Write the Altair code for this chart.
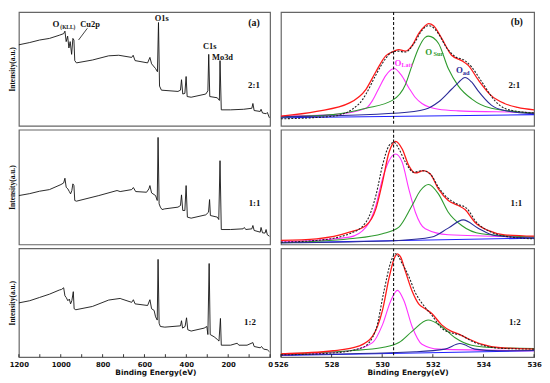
import altair as alt
import pandas as pd

# ---------------- Survey spectra (left column): binding energy (eV) / intensity (a.u.)
sv21_be = [1200,1148,1101,1054,1007,986,980,974,967,961,955,948,942,937,933,925,849,771,723,661,654,645,585,574,566,547,538,533,528,519,440,428,423,417,407,401,396,377,307,297,293,288,252,242,239,233,189,126,87,82,76,47,43,36,19,13,3]
sv21_i = [71.2,73.2,75.4,76.8,79.6,81.0,83.2,74.0,78.8,68.4,74.0,62.8,76.8,75.4,57.3,55.3,57.8,61.5,62.0,60.1,62.0,57.3,55.3,60.1,54.5,50.3,47.5,90.8,34.9,31.3,30.2,31.3,40.5,27.9,28.5,43.3,25.7,25.1,27.9,30.7,62.8,25.7,24.6,22.3,57.3,14.0,14.0,14.5,15.4,19.6,13.4,12.6,14.5,11.2,10.6,11.7,7.0]

sv11_be = [1200,1148,1101,1054,999,986,980,974,966,959,953,947,942,937,933,925,818,731,716,661,653,642,590,579,574,566,547,539,535,530,524,516,503,440,428,423,417,407,401,395,377,307,294,289,285,252,245,239,233,189,129,123,116,87,82,76,47,43,36,24,19,13,3]
sv11_i = [42.6,44.3,46.4,47.8,52.2,53.6,57.7,49.9,48.4,46.1,44.1,47.0,52.8,51.3,38.3,37.7,42.6,47.0,46.1,47.8,49.6,46.1,45.5,48.4,51.3,44.9,42.6,38.3,93.3,35.4,32.5,30.4,31.0,32.5,33.9,43.2,29.6,29.6,51.3,23.8,22.9,25.8,28.1,39.1,25.2,23.8,21.7,73.0,13.0,13.0,13.6,14.8,13.0,13.6,16.5,12.2,10.7,14.8,10.1,9.9,13.0,8.4,7.2]

sv12_be = [1200,1148,1101,1054,1007,996,986,980,974,966,959,953,947,940,936,928,849,771,716,708,661,653,645,585,574,566,554,547,539,535,530,524,503,428,423,418,406,399,393,377,315,302,297,291,286,267,252,244,237,233,189,157,149,110,82,76,47,41,31,13,3]
sv12_i = [49.9,51.9,54.9,57.9,61.7,62.3,63.8,56.4,54.9,51.9,53.4,49.0,51.9,60.2,44.5,43.6,46.6,52.5,54.0,53.4,50.4,52.8,49.0,47.5,52.8,44.5,43.0,37.1,34.1,89.9,31.2,28.2,27.6,28.8,33.5,26.7,28.2,36.2,25.2,24.0,26.7,28.2,20.8,86.1,20.8,18.7,16.3,14.8,35.6,11.0,11.0,12.8,11.0,11.0,13.4,9.8,8.6,9.8,7.4,6.8,5.0]

# ---------------- O1s spectra (right column)
# 2:1
r21_fit_be = [526.00,527.41,528.71,529.36,529.75,530.14,530.47,530.66,530.92,531.18,531.44,531.70,531.83,532.03,532.35,532.74,533.14,533.40,533.79,534.31,534.83,535.35,536.00]
r21_fit_i = [8.4,12.6,20.1,32.1,47.5,61.5,65.6,67.0,65.6,70.4,81.0,88.0,89.9,88.0,76.8,62.0,57.3,53.1,40.5,26.5,19.6,16.2,14.0]
r21_raw_be = [526.00,528.06,529.10,529.36,529.75,530.14,530.34,530.60,530.92,531.25,531.57,531.81,531.96,532.22,532.55,532.88,533.27,533.53,533.92,534.44,534.83,535.35,536.00]
r21_raw_i = [6.1,8.4,19.6,27.9,44.7,59.2,64.2,65.6,64.8,72.1,83.8,88.0,87.2,81.0,68.4,60.9,57.3,51.7,39.1,22.3,15.4,12.6,11.2]
r21_latt_be = [526.00,528.06,529.36,529.62,529.88,530.14,530.47,530.75,531.05,531.30,531.57,532.22,533.00,534.50,536.00]
r21_latt_i = [8.4,9.8,15.4,22.3,33.5,44.1,50.3,44.7,33.5,25.1,19.6,14.5,13.1,12.3,11.7]
r21_sur_be = [526.00,528.06,529.36,530.40,530.92,531.18,531.44,531.70,531.83,532.22,532.61,533.01,533.53,534.31,536.00]
r21_sur_i = [7.8,9.8,15.4,22.3,36.3,53.1,68.4,77.7,78.8,72.6,50.3,34.9,23.7,15.4,11.2]
r21_ad_be = [526.00,530.66,531.70,532.22,532.74,533.01,533.27,533.53,533.79,534.31,534.83,536.00]
r21_ad_i = [7.8,11.2,14.5,20.9,32.1,38.0,42.5,38.5,30.7,18.2,13.4,10.6]
r21_base_be = [526.0, 536.0]
r21_base_i = [7.0, 9.8]

# 1:1
r11_fit_be = [526.00,527.41,528.71,529.36,529.75,530.01,530.27,530.53,530.79,531.05,531.31,531.64,531.90,532.22,532.61,533.01,533.27,533.66,534.18,534.83,536.00]
r11_fit_i = [3.5,4.9,10.7,16.5,31.0,54.2,80.3,89.9,83.2,68.7,62.3,64.3,61.4,48.4,38.3,33.9,30.4,19.4,12.2,8.4,7.2]
r11_raw_be = [526.00,527.41,528.71,529.36,529.75,530.01,530.27,530.47,530.66,530.92,531.25,531.57,531.90,532.22,532.55,532.94,533.33,533.72,534.31,535.09,536.00]
r11_raw_i = [2.0,3.5,9.3,19.4,42.6,68.7,86.1,89.0,83.2,71.6,62.9,64.3,61.4,49.9,41.2,35.4,31.6,19.4,10.7,6.4,4.9]
r11_latt_be = [526.00,528.71,529.36,529.75,530.01,530.27,530.53,530.79,531.05,531.31,531.70,532.61,536.00]
r11_latt_i = [2.0,6.4,15.1,33.9,57.1,73.0,78.8,71.6,48.4,28.1,13.6,8.4,6.4]
r11_sur_be = [526.00,528.71,530.01,530.66,531.18,531.51,531.83,532.22,532.61,533.14,533.92,536.00]
r11_sur_i = [1.4,4.9,9.3,15.1,33.9,47.0,52.2,44.1,28.1,16.5,9.3,6.4]
r11_ad_be = [526.00,530.66,531.96,532.61,533.20,533.79,534.44,536.00]
r11_ad_i = [1.4,3.5,6.4,14.2,21.4,14.2,7.8,5.5]
r11_base_be = [526.0, 536.0]
r11_base_i = [1.4, 5.5]

# 1:2
r12_fit_be = [526.00,528.06,529.10,529.62,530.01,530.27,530.47,530.60,530.73,530.92,531.18,531.44,531.70,531.96,532.35,532.74,533.07,533.40,533.92,534.57,536.00]
r12_fit_i = [3.0,5.9,10.4,19.3,43.0,72.7,90.5,95.0,92.0,78.6,60.8,49.0,44.5,40.1,29.7,23.7,20.8,16.9,11.9,8.9,7.4]
r12_raw_be = [526.00,528.06,529.23,529.75,530.07,530.34,530.53,530.79,531.05,531.31,531.64,531.96,532.35,532.74,533.14,533.53,534.05,534.83,536.00]
r12_raw_i = [2.1,3.9,8.9,25.2,60.8,87.5,95.0,86.1,74.2,59.3,47.5,38.6,26.7,22.3,19.9,14.8,10.4,8.0,7.4]
r12_latt_be = [526.00,528.71,529.62,530.01,530.34,530.60,530.86,531.18,531.57,532.22,536.00]
r12_latt_i = [2.1,5.9,13.4,29.7,51.9,61.4,51.9,28.2,11.9,7.4,5.9]
r12_sur_be = [526.00,528.71,530.01,530.66,531.18,531.81,532.35,532.88,533.53,534.57,536.00]
r12_sur_i = [3.0,5.9,8.9,13.4,23.7,34.1,28.2,17.8,11.0,8.6,8.0]
r12_ad_be = [526.00,531.31,532.48,533.07,533.66,534.57,536.00]
r12_ad_i = [2.1,5.0,7.4,12.5,7.4,5.9,6.2]
r12_base_be = [526.0, 536.0]
r12_base_i = [1.5, 5.9]

# ---------------- ticks / reference line / labels
left_ticks = [1200, 1000, 800, 600, 400, 200, 0]
left_minor = [1200, 1100, 1000, 900, 800, 700, 600, 500, 400, 300, 200, 100, 0]
right_ticks = [526, 528, 530, 532, 534, 536]
dash_be = [530.45]

comp_names = ["base", "latt", "sur", "ad"]
comp_colors = ["#2020ff", "#ff33ff", "#2e9a2e", "#2a2a98"]

SERIF = "Liberation Serif"
SANS = "DejaVu Sans"
LEFT_W, RIGHT_W = 254, 256
ROW_H = [115, 116, 110]


def xenc(domain, reverse, bottom, ticks, title_x=None):
    scale = alt.Scale(domain=domain, reverse=reverse, nice=False, zero=False)
    if bottom:
        kw = dict(values=ticks, format="d", labelFlush=False, ticks=False, domain=False, grid=False,
                  labelFont=SANS, labelFontWeight="bold", labelFontSize=7, labelPadding=3,
                  labelColor="#111", title="Binding Energy(eV)", titleFont=SANS,
                  titleFontSize=7.5, titleFontWeight="bold", titlePadding=2, titleColor="#111")
        if title_x is not None:
            kw["titleX"] = title_x
        return alt.X("BE:Q", scale=scale, axis=alt.Axis(**kw))
    return alt.X("BE:Q", scale=scale, axis=None)


def yenc(left):
    scale = alt.Scale(domain=[0, 100], nice=False, zero=False)
    if left:
        ax = alt.Axis(title="Intensity(a.u.)", labels=False, ticks=False, domain=False, grid=False,
                      titleFont=SERIF, titleFontWeight="bold", titleFontSize=7.5, titlePadding=2,
                      titleColor="#111")
        return alt.Y("I:Q", scale=scale, axis=ax)
    return alt.Y("I:Q", scale=scale, axis=None)


def text_layer(texts, x, y):
    df = pd.DataFrame(texts, columns=["BE", "I", "label", "fs", "c"])
    return alt.Chart(df).mark_text(font=SERIF, fontWeight="bold", baseline="middle", align="center").encode(
        x=x, y=y, text="label:N", size=alt.Size("fs:Q", scale=None), color=alt.Color("c:N", scale=None))


def tick_layer(vals, x, H):
    return alt.Chart(pd.DataFrame({"BE": vals})).mark_rule(color="#222", strokeWidth=0.9).encode(
        x=x, y=alt.value(H), y2=alt.value(H - 3))


def survey_panel(be, inten, texts, row, bottom, leader=None):
    H = ROW_H[row]
    x = xenc([0, 1200], True, bottom, left_ticks, 138)
    y = yenc(True)
    df = pd.DataFrame({"BE": be, "I": inten, "idx": list(range(len(be)))})
    layers = [alt.Chart(df).mark_line(color="#111", strokeWidth=0.9).encode(x=x, y=y, order="idx:Q"),
              text_layer(texts, x, y)]
    if leader is not None:
        ldf = pd.DataFrame([leader], columns=["BE", "I", "BE2", "I2"])
        layers.append(alt.Chart(ldf).mark_rule(color="#111", strokeWidth=0.8).encode(
            x=x, y=y, x2="BE2:Q", y2="I2:Q"))
    if bottom:
        layers.append(tick_layer(left_minor, x, H))
    return alt.layer(*layers).properties(width=LEFT_W, height=H)


def o1s_panel(comps, fit, raw, texts, row, bottom):
    H = ROW_H[row]
    x = xenc([526, 536], False, bottom, right_ticks)
    y = yenc(False)
    rows = []
    for name, (be, iv) in zip(comp_names, comps):
        for k, (b, v) in enumerate(zip(be, iv)):
            rows.append({"BE": b, "I": v, "s": name, "idx": k})
    cdf = pd.DataFrame(rows)
    fdf = pd.DataFrame({"BE": fit[0], "I": fit[1], "idx": list(range(len(fit[0])))})
    rdf = pd.DataFrame({"BE": raw[0], "I": raw[1], "idx": list(range(len(raw[0])))})
    comp = alt.Chart(cdf).mark_line(strokeWidth=1.1, interpolate="monotone").encode(
        x=x, y=y, order="idx:Q",
        color=alt.Color("s:N", scale=alt.Scale(domain=comp_names, range=comp_colors), legend=None))
    fitl = alt.Chart(fdf).mark_line(color="#ff1a1a", strokeWidth=1.3, interpolate="monotone").encode(
        x=x, y=y, order="idx:Q")
    rawl = alt.Chart(rdf).mark_line(color="#222", strokeWidth=1.1, strokeDash=[2, 1.5],
                                    interpolate="monotone").encode(x=x, y=y, order="idx:Q")
    dash = alt.Chart(pd.DataFrame({"BE": dash_be})).mark_rule(
        color="#111", strokeWidth=1.1, strokeDash=[3, 2]).encode(x=x)
    layers = [comp, fitl, rawl, dash, text_layer(texts, x, y)]
    if bottom:
        layers.append(tick_layer(right_ticks, x, H))
    return alt.layer(*layers).properties(width=RIGHT_W, height=H)


K = "#111"
t_a = [(1023, 89.3, "O", 9, K), (966, 86.5, "(KLL)", 5.5, K), (860, 89.3, "Cu2p", 8.5, K),
       (517, 94.4, "O1s", 8.5, K), (288, 70.3, "C1s", 8.5, K), (227, 60.8, "Mo3d", 8.5, K),
       (77, 89.9, "(a)", 10, K), (77, 36.1, "2:1", 9, K)]
t_l11 = [(74, 36.5, "1:1", 9, K)]
t_l12 = [(96, 32.7, "1:2", 9, K)]
t_b = [(535.32, 90.8, "(b)", 10, K), (535.22, 36.1, "2:1", 9, K),
       (530.62, 55.2, "O", 9, "#ff33ff"), (530.98, 53.0, "Latt", 6, "#ff33ff"),
       (531.84, 64.7, "O", 9, "#2e9a2e"), (532.22, 62.8, "Sur", 6.5, "#2e9a2e"),
       (533.05, 48.7, "O", 9, "#2a2a98"), (533.32, 46.8, "ad", 6.5, "#2a2a98")]
t_r11 = [(535.3, 36.5, "1:1", 9, K)]
t_r12 = [(535.24, 32.7, "1:2", 9, K)]

panels = [
    survey_panel(sv21_be, sv21_i, t_a, 0, False, leader=(873, 85.7, 915, 75.4)),
    o1s_panel([(r21_base_be, r21_base_i), (r21_latt_be, r21_latt_i), (r21_sur_be, r21_sur_i), (r21_ad_be, r21_ad_i)],
              (r21_fit_be, r21_fit_i), (r21_raw_be, r21_raw_i), t_b, 0, False),
    survey_panel(sv11_be, sv11_i, t_l11, 1, False),
    o1s_panel([(r11_base_be, r11_base_i), (r11_latt_be, r11_latt_i), (r11_sur_be, r11_sur_i), (r11_ad_be, r11_ad_i)],
              (r11_fit_be, r11_fit_i), (r11_raw_be, r11_raw_i), t_r11, 1, False),
    survey_panel(sv12_be, sv12_i, t_l12, 2, True),
    o1s_panel([(r12_base_be, r12_base_i), (r12_latt_be, r12_latt_i), (r12_sur_be, r12_sur_i), (r12_ad_be, r12_ad_i)],
              (r12_fit_be, r12_fit_i), (r12_raw_be, r12_raw_i), t_r12, 2, True),
]

chart = alt.concat(*panels, columns=2, spacing={"row": 4, "column": 11}, bounds="flush",
                   align="each").properties(
    padding=0, background="white").configure_view(stroke="#666", strokeWidth=1.2)

chart.save("out.html", embed_options={"renderer": "svg", "actions": False})
